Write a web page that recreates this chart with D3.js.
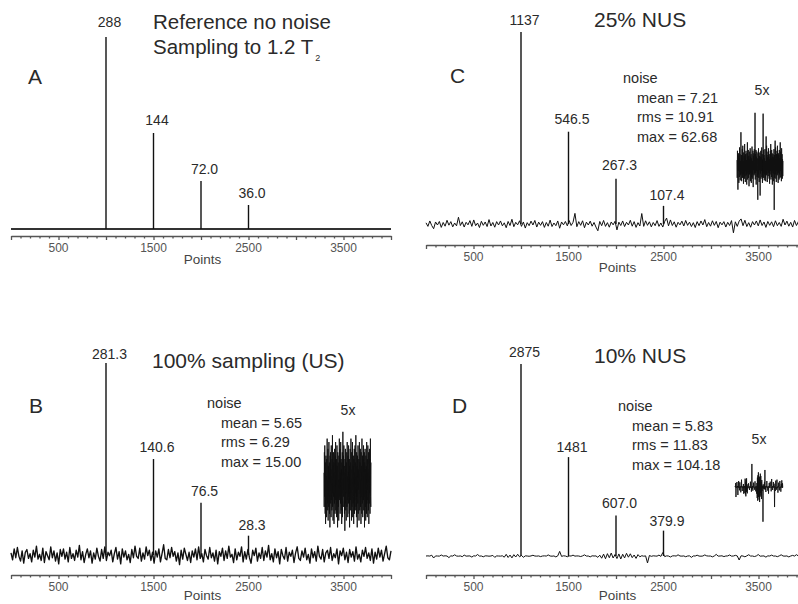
<!DOCTYPE html>
<html><head><meta charset="utf-8">
<script src="https://cdn.jsdelivr.net/npm/d3@7"></script>
<style>
body{margin:0;background:#fff}
svg{display:block}
text{font-family:"Liberation Sans",Arial,Helvetica,sans-serif}
</style>
</head><body>
<svg id="chart" width="798" height="604"></svg>
<script>
// ---------- data ----------
const peakPoints = [1000, 1500, 2000, 2500];
const peaksA = [288, 144, 72.0, 36.0];
const peaksB = [281.3, 140.6, 76.5, 28.3];
const peaksC = [1137, 546.5, 267.3, 107.4];
const peaksD = [2875, 1481, 607.0, 379.9];
const peakLabelsA = ["288", "144", "72.0", "36.0"];
const peakLabelsB = ["281.3", "140.6", "76.5", "28.3"];
const peakLabelsC = ["1137", "546.5", "267.3", "107.4"];
const peakLabelsD = ["2875", "1481", "607.0", "379.9"];
const tickLabels = [500, 1500, 2500, 3500];
const statsB = ["mean = 5.65", "rms = 6.29", "max = 15.00"];
const statsC = ["mean = 7.21", "rms = 10.91", "max = 62.68"];
const statsD = ["mean = 5.83", "rms = 11.83", "max = 104.18"];

const noiseB = [
3,-7,9,-4,11,-2,-9,6,-12,4,8,-5,2,-10,7,-3,13,-6,1,-8,10,-11,5,-1,-7,12,-4,6,-9,3,-13,8,-2,9,-6,4,-10,11,-5,2,
-8,7,-3,14,-7,5,-11,1,9,-4,6,-12,3,-6,10,-2,-9,8,-5,12,-8,4,-1,7,-10,2,11,-6,5,-13,9,-3,6,-7,1,-11,8,-4,13,-2,
-5,10,-9,3,-6,12,-1,7,-8,4,-12,6,-3,9,-10,2,15,-5,-7,8,-4,11,-2,5,-9,3,-14,7,-6,10,1,-8,4,-11,6,-3,9,-7,12,-5,
2,-10,8,-1,-6,11,-4,3,-9,7,-13,5,-2,10,-8,6,-5,13,-3,1,-11,9,-7,4,-2,12,-10,5,-6,8,-4,-12,7,-1,10,-9,3,-5,11,-8,
6,-3,14,-7,2,-10,9,-4,5,-13,8,-1,-6,11,-9,4,-2,7,-11,3,12,-5,-8,6,-3,10,-7,1,-12,9,-4,5,-9,13,-2,-6,8,-10,3,7,
-5,11,-8,2,-4,9,-13,6,-1,10,-7,4,-11,8,-3,5,-9,12,-6,1,-10,7,-2,11,-5,3,-8,9,-12,4,-6,10,-3,7,-9,2,13,-4,-7,6];

const noiseC = [
7,-14,18,-9,-28,12,-6,15,-20,9,-13,22,-7,14,-17,6,-11,40,-9,13,
-18,10,-5,20,-14,24,-10,6,-21,16,-8,12,-15,26,-12,9,-19,14,-6,18,
-11,7,-22,15,-9,28,-16,10,-5,19,-14,12,-24,8,-10,17,-6,21,-18,11,
-8,14,-20,9,-13,23,-15,6,-10,18,-25,12,-5,15,-11,20,-9,10,63,-16,
14,-8,19,-22,11,-6,17,-13,9,-18,-40,15,-10,21,-14,8,-19,12,-5,16,
-35,11,-9,18,-15,10,-6,22,-13,14,-20,8,-12,62,-14,19,-8,13,-17,9,
-10,20,-14,6,-18,15,35,-11,24,-9,13,-19,10,-5,17,-12,21,-8,11,-15,
8,-21,14,-10,18,-6,26,-16,9,-13,19,-8,15,-22,11,-5,14,-18,10,-9,
20,-52,13,-14,17,30,-10,22,-15,8,-19,14,-6,18,-11,24,-9,12,-20,15,
-8,13,-16,19,-10,9,-14,28,-6,17,-13,10,-18,21,-9,14,-15,8,-12,6];

const noiseD = [
0,2,-1,12,-30,1,0,-2,15,-1,3,0,-24,2,-1,18,0,-3,1,-10,
14,-2,0,1,-16,3,0,22,-1,0,-12,2,1,-3,0,9,-20,1,0,-2,
3,-18,25,-22,14,-28,20,-15,26,-12,8,-19,2,0,-4,1,11,0,-2,1,
-9,0,2,-1,16,0,-3,1,-14,2,69,-6,3,0,-11,1,0,13,-2,1,
0,-8,2,17,-1,0,-13,3,0,1,-20,12,-33,28,-41,35,-26,44,-30,22,
-38,31,-45,26,-29,40,-18,33,-25,15,-36,21,-12,4,-3,2,-104,8,-5,3,
0,-2,14,-6,51,-9,2,0,-15,1,3,-1,18,0,-2,1,-11,0,2,-20,
1,0,12,-1,-3,0,16,2,-1,0,-13,1,24,-2,0,3,-9,0,1,15,
-2,0,10,1,-60,3,0,-12,2,19,-1,0,-8,1,22,-3,0,1,-17,2,
0,13,-1,0,-10,2,18,0,-2,1,-14,0,9,-1,20,0,-3,11,-1,0];

// ---------- layout ----------
const panels = [
  {letter:"A", peaks:peaksA, labels:peakLabelsA, noise:null, stats:null,
   x0:11, y0:229, axisY:236, titleX:153, titleY:29, letterX:28, letterY:84, ptsDy:28, labDy:[10,8,7,7]},
  {letter:"B", peaks:peaksB, labels:peakLabelsB, noise:noiseB, stats:statsB, traceW:1.35,
   x0:11, y0:555, axisY:575, titleX:152, titleY:368, letterX:29, letterY:413, ptsDy:25, labDy:[4,7,7,6],
   statX:207, statY:408, insetX:[324,371], insetY:483, fiveX:348, fiveY:415},
  {letter:"C", peaks:peaksC, labels:peakLabelsC, noise:noiseC, stats:statsC, traceW:1,
   x0:426, y0:224, axisY:245, titleX:594, titleY:27, letterX:450, letterY:83, ptsDy:27, labDy:[7,8,9,6],
   statX:623, statY:83, insetX:[737,783], insetY:166, fiveX:762, fiveY:95},
  {letter:"D", peaks:peaksD, labels:peakLabelsD, noise:noiseD, stats:statsD, traceW:1,
   x0:426, y0:556, axisY:575, titleX:594, titleY:363, letterX:452, letterY:413, ptsDy:25, labDy:[7,5,7,5],
   statX:618, statY:411, insetX:[735,783], insetY:487, fiveX:759, fiveY:444}
];
const titles = {B: "100% sampling (US)", C: "25% NUS", D: "10% NUS"};

const svg = d3.select("#chart");
const ink = "#111";
const textCol = "#2a2a2a";

panels.forEach(p => {
  const g = svg.append("g");
  const x = d3.scaleLinear().domain([0, 4000]).range([p.x0, p.x0 + 380]);
  const maxV = d3.max(p.peaks);
  const y = d3.scaleLinear().domain([0, maxV]).range([p.y0, p.y0 - 192]);

  if (p.noise) {
    const n = p.noise.length;
    const xi = d3.scaleLinear().domain([0, n - 1]).range(x.range());
    g.append("path").datum(p.noise)
      .attr("d", d3.line().x((d, i) => xi(i)).y(d => y(d)))
      .attr("fill", "none").attr("stroke", ink).attr("stroke-width", p.traceW)
      .attr("stroke-linejoin", "round");
    // 5x inset: same noise, vertical magnification 5
    const xs = d3.scaleLinear().domain([0, n - 1]).range(p.insetX);
    const ys = d3.scaleLinear().domain([0, maxV / 5]).range([p.insetY, p.insetY - 192]);
    g.append("path").datum(p.noise)
      .attr("d", d3.line().x((d, i) => xs(i)).y(d => ys(d)))
      .attr("fill", "none").attr("stroke", ink).attr("stroke-width", 0.9);
    g.append("text").attr("x", p.fiveX).attr("y", p.fiveY)
      .attr("text-anchor", "middle").attr("font-size", 14).attr("fill", textCol).text("5x");
    g.append("text").attr("x", p.statX).attr("y", p.statY)
      .attr("font-size", 14.5).attr("fill", textCol).text("noise");
    g.selectAll("text.stat").data(p.stats).join("text").attr("class", "stat")
      .attr("x", p.statX + 14).attr("y", (d, i) => p.statY + 19.5 * (i + 1))
      .attr("font-size", 14.5).attr("fill", textCol).text(d => d);
  } else {
    g.append("path").datum([0, 4000])
      .attr("d", d3.line().x(d => x(d)).y(() => y(0)))
      .attr("stroke", "#333").attr("stroke-width", 2);
  }

  // peaks
  g.selectAll("line.peak").data(p.peaks).join("line").attr("class", "peak")
    .attr("x1", (d, i) => x(peakPoints[i])).attr("x2", (d, i) => x(peakPoints[i]))
    .attr("y1", y(0)).attr("y2", d => y(d))
    .attr("stroke", ink).attr("stroke-width", 1.4);
  g.selectAll("text.plab").data(p.peaks).join("text").attr("class", "plab")
    .attr("x", (d, i) => x(peakPoints[i]) + 3.5).attr("y", (d, i) => y(d) - p.labDy[i])
    .attr("text-anchor", "middle").attr("font-size", 14).attr("fill", textCol)
    .text((d, i) => p.labels[i]);

  // axis
  const minor = d3.axisBottom(x).tickValues(d3.range(0, 4001, 100))
    .tickSize(2.5).tickSizeOuter(0).tickFormat("");
  const ax = g.append("g").attr("transform", `translate(0,${p.axisY})`).call(minor);
  ax.selectAll(".tick line").attr("y2", d => d % 500 === 0 ? 4 : 2.5);
  ax.selectAll("line, path").attr("stroke", "#555").attr("stroke-width", 1.3);
  ax.select(".domain").attr("stroke-width", 1.6);
  ax.selectAll("text.tl").data(tickLabels).join("text").attr("class", "tl")
    .attr("x", d => x(d)).attr("y", 15.5).attr("text-anchor", "middle")
    .attr("font-size", 12).attr("fill", "#555").text(d => d);
  ax.append("text").attr("x", x(2000) + 1.5).attr("y", p.ptsDy)
    .attr("text-anchor", "middle").attr("font-size", 13.5).attr("fill", "#444").text("Points");

  // letter
  g.append("text").attr("x", p.letterX).attr("y", p.letterY)
    .attr("font-size", 21).attr("fill", textCol).text(p.letter);

  // title
  if (p.letter === "A") {
    g.append("text").attr("x", p.titleX).attr("y", p.titleY)
      .attr("font-size", 20.5).attr("fill", textCol).text("Reference no noise");
    const t2 = g.append("text").attr("x", p.titleX).attr("y", p.titleY + 24.5)
      .attr("font-size", 20.5).attr("fill", textCol);
    t2.append("tspan").text("Sampling to 1.2 T");
    t2.append("tspan").attr("font-size", 9).attr("dx", 2).attr("dy", 7).text("2");
  } else {
    g.append("text").attr("x", p.titleX).attr("y", p.titleY)
      .attr("font-size", 21).attr("fill", textCol).text(titles[p.letter]);
  }
});
</script>
</body></html>
